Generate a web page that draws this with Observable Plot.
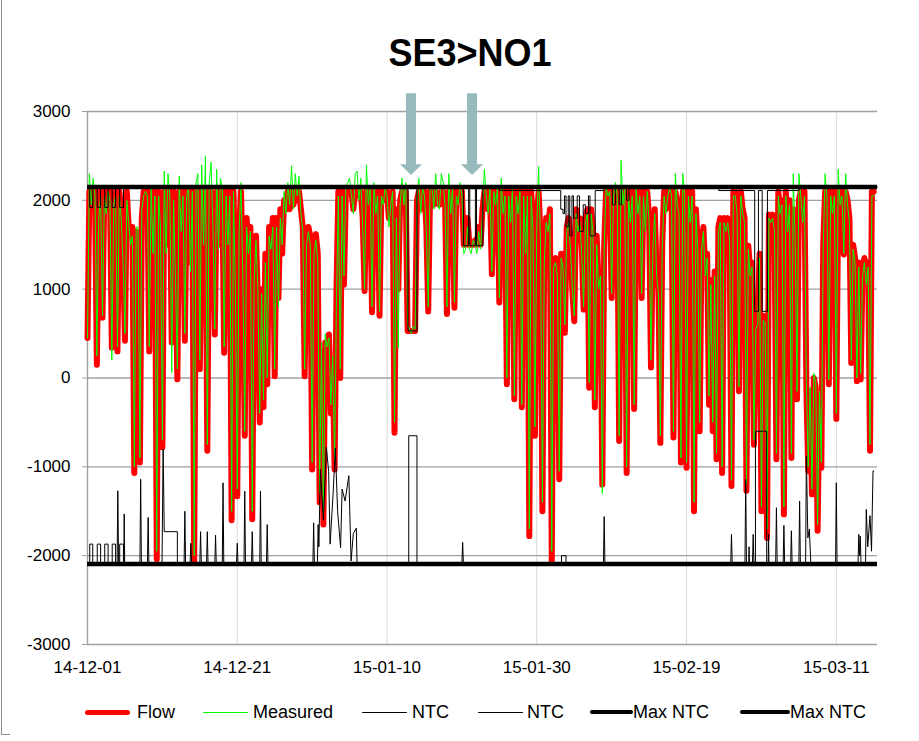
<!DOCTYPE html>
<html>
<head>
<meta charset="utf-8">
<script src="https://cdn.jsdelivr.net/npm/d3@7"></script>
<script src="https://cdn.jsdelivr.net/npm/@observablehq/plot@0.6"></script>
<style>
  html, body { margin: 0; padding: 0; background: #fff; }
  #wrap { position: relative; width: 919px; height: 741px; overflow: hidden; font-family: "Liberation Sans", Arial, sans-serif; }
  #title { position: absolute; left: 0; top: 33px; width: 940px; text-align: center; font-weight: bold; font-size: 36px; line-height: 36px; color: #000; transform: scaleY(1.1); transform-origin: 50% 0; }
  #chart { position: absolute; left: 0; top: 0; }
  #border { position: absolute; left: 1px; top: 0; width: 8px; height: 734px; border-left: 1px solid #8c8c8c; border-bottom: 1px solid #8c8c8c; }
  .lg { position: absolute; top: 702px; height: 20px; font-size: 18px; line-height: 20px; color: #000; white-space: nowrap; }
  .sw { position: absolute; top: 10px; border-radius: 3px; }
</style>
</head>
<body>
<div id="wrap">
  <div id="border"></div>
  <div id="chart"></div>
  <div id="title">SE3&gt;NO1</div>
  <div id="legend"></div>
</div>
<script>
// ---------------- data (6-hourly values from 2014-12-01 00:00) ----------------
const seriesStart = "2014-12-01";
const stepHours = 6;

const flow = [
  450,2100,1900,2100,  2100,150,1900,2100,  680,2100,1900,2100,  2100,340,1900,2100,
  300,2100,1900,1400,  420,2100,1700,1600,  1700,-1070,1650,1600, -950,1800,2100,2100,
  2100,300,2100,1500,  2100,-2040,2100,1800, -780,2100,1500,2100, 2100,400,2100,1200,
  -15,2100,1700,2100,  420,2100,2100,1300,  2100,-2080,2100,2100, 100,2100,1600,2100,
  -820,2100,2100,1800, 490,2100,1500,2100,  2100,285,2100,1600,  2100,-1600,2100,900,
  -1330,1700,2100,1200, -650,1800,1500,1700, -1590,1200,1600,900, -500,1000,-330,1400,
  -70,1700,1500,1800,  20,1800,900,1900,  1400,2000,1900,2100,  1900,2100,1950,2100,
  2000,2100,1900,1700, 20,1600,1700,1600,  -1030,1500,1620,1400, -1400,300,-1650,400,
  300,490,-400,200,  -1030,1000,2100,0,  2100,1050,2100,2100,  2100,2100,1900,2100,
  2100,2050,2100,1800, 980,2100,2000,2100,  740,2100,1900,2100,  700,2100,2000,2100,
  2100,1800,2000,2100, -615,1900,1000,2000, 2100,2000,2100,530,  530,530,530,530,
  2000,2100,1900,2100, 2100,1700,750,2100,  2100,1950,2100,2000, 1950,2100,2100,2000,
  720,2100,1900,2100,  790,2100,2000,2100,  2100,1500,1500,1800, 1500,1500,1500,1550,
  1500,1700,1500,1900, 2100,2100,1900,2100, 1170,2100,2000,2100, 850,2100,1900,2100,
  -70,2100,1800,2100,  -240,2100,1900,2100, -330,2100,1500,2100, -1780,2100,1700,-650,
  1800,2100,1600,-1500, 1400,1800,1700,1900, -2080,1300,1350,1200, -1140,1400,1300,510,
  1700,1800,1500,980,  640,1900,1700,1800,  1500,770,1800,1900,  -110,1900,1700,-330,
  1600,1050,1200,-1200, 1500,2100,2100,2100, 900,2100,2100,2100,  -710,2100,2000,2100,
  -1070,2100,1800,2100, -350,2100,1900,2100, 900,2100,1700,2100,  1800,120,1500,1900,
  1200,1000,-730,1500, 2100,1900,2100,2100, 2100,-670,2100,2000,  1900,-950,2100,2100,
  -1010,2100,1800,2100, -1500,1900,1500,-600, 1500,1700,1200,1400, -300,1100,-600,1200,
  -915,1700,1800,-1070, 1800,1700,1800,1600, -1215,2100,2100,1900, -150,2100,1900,1800,
  -1270,1490,1200,1300, -750,600,567,1400, -1500,700,650,-1800, 1840,1800,1840,1700,
  -915,2100,1900,2000, -1535,2100,1700,2000, -900,1900,1600,-240, 2000,2100,1800,2100,
  -100,-1050,-150,-1310, 0,-100,-1720,-200, -1010,1500,2100,2100, -70,2100,1900,2100,
  -460,2100,2000,2100, 1390,2100,2000,1800, 170,1500,1350,-35,  1300,-15,1200,1350,
  1100,1300,-820,2100,
  2100
];

const measured = [
  450,2300,1950,2250,  2050,250,1800,2050,  700,2050,1850,2100,  2000,200,1950,2050,
  350,2050,1800,1300,  500,2000,1750,1500,  1600,-1000,1700,1700, -900,1900,2050,2100,
  2050,350,2150,1400,  2050,-1950,2050,1700, -700,2330,1400,2300, 2050,60,2000,1100,
  100,2270,1650,2050,  500,2050,2150,1200,  2100,-2000,2200,2300, 200,2400,1500,2500,
  -750,2200,2430,1700, 550,2350,1450,2250,  2150,350,2050,1500,  2050,-1500,2100,1000,
  -1250,1650,2200,1100, -600,1700,1400,1650, -1500,1100,1550,1000, -400,950,-250,1300,
  0,1600,1450,1700,  100,1700,800,1800,  1500,2100,1850,2200,  1950,2390,1900,2300,
  2050,2270,1850,1650, 100,1500,1650,1500,  -950,1400,1550,1300,  -1300,400,-1550,500,
  350,450,-300,250,  -950,900,2050,100,  2050,1150,2150,2200,  2250,2050,1850,2300,
  2330,2000,2250,1700, 1000,2400,1950,2150, 800,2200,1850,2050,  750,2050,1950,2150,
  2050,1700,1950,2100, -500,1800,340,1950,  2250,1950,2200,600,  550,500,580,550,
  2050,2250,1850,2150, 2050,1650,800,2150,  2150,1900,2300,1950, 1900,2300,2200,1950,
  800,2300,1850,2150,  850,2050,1950,2200,  2050,1400,1450,1700, 1450,1400,1550,1500,
  1400,1650,1450,1850, 2350,2050,1850,2150, 1200,2100,1950,2150, 900,2250,1850,2050,
  0,2050,1750,2150,  -200,2050,1850,2100, -300,2050,1400,2050, -1700,2050,1650,-550,
  1700,2380,1500,-1400, 1300,1750,1650,1850, -1950,1250,1300,1150, -1050,1350,1250,600,
  1650,1750,1450,1000, 700,1850,1650,1750,  1400,800,1750,1850,  -50,1850,1650,-250,
  1500,1000,1150,-1300, 1450,2150,2050,2100, 950,2050,2200,2050,  -650,2450,1950,2150,
  -1000,2050,1750,2050, -300,2150,1850,2050, 950,2050,1650,2100,  1750,200,1450,1850,
  1150,950,-650,1450,  2050,1850,2050,2150, 2050,-600,2300,1950,  1850,-900,2300,2050,
  -950,2050,1750,2050, -1400,1850,1450,-500, 1450,1650,1150,1350, -200,1050,-500,1150,
  -850,1650,1750,-1000, 1750,1650,1750,1550, -1150,2050,2050,1850, -100,2050,1850,1750,
  -1200,1450,1150,1250, -700,550,600,1350,  -1450,650,620,-1700, 1800,1750,1800,1650,
  -850,2050,1850,1950, -1450,2050,1650,1950, -850,2300,1550,-150,  2300,2050,1750,2050,
  -50,-1000,-100,-1250, 50,-50,-1650,-150,  -950,1450,2300,2050,  -20,2050,1850,2050,
  -400,2350,1950,2050, 1400,2300,1950,1750, 200,1450,1300,0,  1250,50,1150,1300,
  1050,1250,-750,2050,
  2050
];

// NTC export (step changes): day offset from series start, value
const ntcExportDay = [0,0.3,0.7,1.3,1.75,2.3,2.75,3.3,3.75,4.3,4.8,
  42.8,44.0, 50.2,50.9,51.05,51.8,51.95,52.8, 55.0,
  63.2,63.5,63.7,63.9,64.2,64.4,64.7,64.9,65.4,65.7,66.2,66.5,66.9,67.1,67.8,69.0,
  70.1,70.5,71.0,71.3,72.0,72.3, 84.3,89.1,89.6,90.1,90.8,95.0,105.5];
const ntcExportVal = [2150,1920,2150,1920,2150,1920,2150,1920,2150,1920,2150,
  530,2150, 1490,2150,1490,2150,1490,2150, 2110,
  1900,1850,2050,1700,2050,1600,2050,1800,2050,1650,1950,1850,2050,1600,2110,2150,
  1950,2150,1950,2150,2000,2150, 2110,750,2110,750,2110,2150,2150];

// NTC import: day offset, value
const ntcImportDay = [0,
  0.3,0.3,0.7,0.7, 1.3,1.3,1.75,1.75, 2.3,2.3,2.75,2.75, 3.3,3.3,3.75,3.75,
  3.95,4.05,4.15, 4.3,4.3,4.8,4.8, 4.85,4.9,4.97, 7.0,7.1,7.2, 8.0,8.1,8.2,
  9.95,10.1,10.25,12.0,12.0, 12.9,13.0,13.1, 13.7,13.8,13.9, 15.0,15.1,15.2,
  15.9,16.0,16.1, 17.0,17.1,17.2, 18.0,18.1,18.2, 19.9,20.0,20.1, 20.9,21.0,21.1,
  21.9,22.0,22.1, 23.0,23.1,23.2, 23.9,24.0,24.1, 30.1,30.2,30.3,
  30.7,30.8,30.9,31.1,31.5,31.9,32.2,32.4,32.8,33.1,33.4,33.8,34.0,34.4,34.9,35.2,35.5,35.9,36.0,
  42.9,42.9,44.0,44.0, 50.0,50.1,50.2, 63.3,63.3,63.9,63.9, 68.9,69.0,69.1,
  85.9,86.0,86.1, 87.8,87.9,88.0, 88.3,88.35,88.4, 88.8,88.9,89.0,
  89.2,89.2,90.7,90.7, 90.9,90.95,91.0, 91.9,92.0,92.1, 92.9,93.0,93.1,
  93.9,94.0,94.1, 95.0,95.1,95.2, 95.9,96.0,96.2,96.4,96.6, 99.9,100.0,100.1,
  102.9,103.0,103.1,103.2,103.3, 103.9,104.0,104.2,104.5,104.7,104.9,105.0];
const ntcImportVal = [-2095,
  -2095,-1870,-1870,-2095, -2095,-1870,-1870,-2095, -2095,-1870,-1870,-2095, -2095,-1870,-1870,-2095,
  -2095,-1270,-2095, -2095,-1870,-1870,-2095, -2095,-1530,-2095, -2095,-1140,-2095, -2095,-1570,-2095,
  -2095,-800,-1730,-1730,-2095, -2095,-1500,-2095, -2095,-1860,-2095, -2095,-1730,-2095,
  -2095,-1730,-2095, -2095,-1770,-2095, -2095,-1180,-2095, -2095,-1860,-2095, -2095,-1275,-2095,
  -2095,-1730,-2095, -2095,-1275,-2095, -2095,-1650,-2095, -2095,-1630,-2095,
  -2095,-1650,-1900,-1030,-1600,-780,-1050,-1870,-1300,-790,-1500,-1910,-1250,-1385,-1100,-2060,-1750,-1690,-2095,
  -2095,-650,-650,-2095, -2095,-1850,-2095, -2095,-2000,-2000,-2095, -2095,-1560,-2095,
  -2095,-1760,-2095, -2095,-1140,-2095, -2095,-1900,-2095, -2095,-1760,-2095,
  -2095,-600,-600,-2095, -2095,-1760,-2095, -2095,-1460,-2095, -2095,-1660,-2095,
  -2095,-1720,-2095, -2095,-1385,-2095, -2095,-880,-1800,-1700,-2095, -2095,-1180,-2095,
  -2095,-1760,-2000,-1780,-2095, -2095,-1480,-1900,-1550,-1950,-1047,-1047];

const maxNtcExport = 2150;
const maxNtcImport = -2095;

const yTicks = [-3000, -2000, -1000, 0, 1000, 2000, 3000];
const xTickLabels = ["14-12-01", "14-12-21", "15-01-10", "15-01-30", "15-02-19", "15-03-11"];
const titleText = "SE3>NO1";
const legendItems = ["Flow", "Measured", "NTC", "NTC", "Max NTC", "Max NTC"];

// ---------------- build tables ----------------
const t0 = d3.utcParse("%Y-%m-%d")(seriesStart).getTime();
const DAY = 864e5;
const atStep = i => new Date(t0 + i * stepHours * 3600e3);
const atDay = d => new Date(t0 + d * DAY);
const flowData = flow.map((v, i) => ({t: atStep(i), v}));
const measData = measured.map((v, i) => ({t: atStep(i), v}));
const expData = ntcExportDay.map((d, i) => ({t: atDay(d), v: ntcExportVal[i]}));
const impData = ntcImportDay.map((d, i) => ({t: atDay(d), v: ntcImportVal[i]}));
const parseTick = d3.utcParse("%y-%m-%d");
const xTicks = xTickLabels.map(parseTick);
const fmt = d3.utcFormat("%y-%m-%d");

const plot = Plot.plot({
  width: 919,
  height: 690,
  marginLeft: 87,
  marginRight: 42,
  marginTop: 111,
  marginBottom: 46,
  style: {fontFamily: "'Liberation Sans', Arial, sans-serif", fontSize: "17px", background: "transparent", overflow: "visible", color: "#000"},
  x: {type: "utc", domain: [atDay(0), atDay(105.5)]},
  y: {domain: [-3000, 3000]},
  marks: [
    Plot.gridX(xTicks, {stroke: "#d9d9d9", strokeOpacity: 1, strokeWidth: 1}),
    Plot.gridY(yTicks, {stroke: "#a0a0a0", strokeOpacity: 1, strokeWidth: 1.4}),
    Plot.ruleX([atDay(0)], {stroke: "#a0a0a0", strokeWidth: 1.4}),
    Plot.axisY(yTicks, {tickSize: 5, tickPadding: 12, stroke: "#a0a0a0", fill: "#000", tickFormat: d => String(d), label: null, fontSize: 17}),
    Plot.axisX(xTicks, {tickSize: 0, tickPadding: 16, tickFormat: fmt, label: null, fill: "#000", fontSize: 17}),
    Plot.line(flowData, {x: "t", y: "v", stroke: "#ff0000", strokeWidth: 6, strokeLinejoin: "round", strokeLinecap: "round"}),
    Plot.line(measData, {x: "t", y: "v", stroke: "#00ff00", strokeWidth: 1}),
    Plot.line(expData, {x: "t", y: "v", stroke: "#000", strokeWidth: 1, curve: "step-after"}),
    Plot.line(impData, {x: "t", y: "v", stroke: "#000", strokeWidth: 1}),
    Plot.ruleY([maxNtcExport, maxNtcImport], {stroke: "#000", strokeWidth: 4.5})
  ]
});
document.getElementById("chart").appendChild(plot);
document.getElementById("title").textContent = titleText;

// annotation arrows (positions through the plot's scales)
const xs = plot.scale("x"), ys = plot.scale("y");
const arrowAt = [atDay(43.27), atDay(51.42)];
const ns = "http://www.w3.org/2000/svg";
arrowAt.forEach(d => {
  const cx = xs.apply(d);
  const yTop = ys.apply(3200), yBase = ys.apply(2400), yTip = ys.apply(2280);
  const p = document.createElementNS(ns, "polygon");
  const pts = [[cx - 5, yTop], [cx + 5, yTop], [cx + 5, yBase], [cx + 11, yBase], [cx, yTip], [cx - 11, yBase], [cx - 5, yBase]];
  p.setAttribute("points", pts.map(q => q.join(",")).join(" "));
  p.setAttribute("fill", "#97babc");
  plot.appendChild(p);
});

// legend
const lg = document.getElementById("legend");
const sw = [
  {x: 85, w: 45, h: 5, c: "#ff0000", tx: 137},
  {x: 203, w: 45, h: 1, c: "#00ff00", tx: 253},
  {x: 362, w: 45, h: 1, c: "#000", tx: 412},
  {x: 478, w: 45, h: 1, c: "#000", tx: 527},
  {x: 590, w: 43, h: 4, c: "#000", tx: 633},
  {x: 740, w: 50, h: 4, c: "#000", tx: 790}
];
legendItems.forEach((name, i) => {
  const s = sw[i];
  const line = document.createElement("div");
  line.className = "lg";
  line.style.left = s.x + "px";
  line.style.width = s.w + "px";
  const bar = document.createElement("div");
  bar.className = "sw";
  bar.style.left = "0px";
  bar.style.width = s.w + "px";
  bar.style.height = s.h + "px";
  bar.style.marginTop = (-s.h / 2) + "px";
  bar.style.background = s.c;
  line.appendChild(bar);
  lg.appendChild(line);
  const t = document.createElement("div");
  t.className = "lg";
  t.style.left = s.tx + "px";
  t.textContent = name;
  lg.appendChild(t);
});
</script>
</body>
</html>
